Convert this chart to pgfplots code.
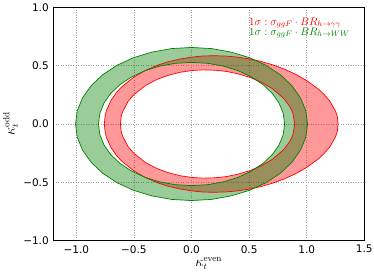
\documentclass[border=0pt]{standalone}
\usepackage[no-math]{fontspec}
\setmainfont{DejaVu Sans}
\usepackage{pgfplots}
\pgfplotsset{compat=1.18}
\definecolor{mplgreen}{rgb}{0,0.5,0}
\begin{document}
\fontsize{10}{12}\selectfont
\begin{tikzpicture}
\begin{axis}[
  scale only axis, width=311pt, height=233.4pt,
  xmin=-1.2, xmax=1.5, ymin=-1, ymax=1,
  xtick={-1,-0.5,0,0.5,1,1.5}, xticklabels={−1.0,−0.5,0.0,0.5,1.0,1.5},
  ytick={-1,-0.5,0,0.5,1}, yticklabels={−1.0,−0.5,0.0,0.5,1.0},
  grid=major, major grid style={gray!75, line width=0.5pt, dash pattern=on 1pt off 1.5pt},
  major tick length=0pt,
  axis line style={line width=0.8pt},
  tick label style={font=\fontsize{10.5}{12}\selectfont},
  xticklabel style={yshift=-1pt},
  yticklabel style={xshift=-1pt},
  xlabel={$\kappa_t^{\mathrm{even}}$}, ylabel={$\kappa_t^{\mathrm{odd}}$},
  label style={font=\fontsize{13.5}{15}\selectfont},
  xlabel style={at={(axis description cs:0.5,-0.098)}, anchor=center},
  ylabel style={at={(axis description cs:-0.137,0.5)}, anchor=center},
]
% red band fill
\addplot[draw=none, fill=red, fill opacity=0.4, even odd rule] coordinates {
(1.273,0) (1.265,0.067) (1.25,0.111) (1.2,0.197) (1.15,0.254) (1.1,0.300) (1.0,0.372) (0.9,0.428) (0.8,0.473) (0.7,0.508) (0.6,0.537) (0.5,0.558) (0.4,0.573) (0.3,0.582) (0.2,0.585) (0.1,0.583) (0,0.573) (-0.1,0.557) (-0.2,0.534) (-0.3,0.502) (-0.4,0.459) (-0.5,0.402) (-0.6,0.324) (-0.65,0.272) (-0.7,0.201) (-0.74,0.111) (-0.75,0.071) (-0.757,0)
(-0.75,-0.071) (-0.74,-0.111) (-0.7,-0.201) (-0.65,-0.272) (-0.6,-0.324) (-0.5,-0.402) (-0.4,-0.459) (-0.3,-0.502) (-0.2,-0.534) (-0.1,-0.557) (0,-0.573) (0.1,-0.583) (0.2,-0.585) (0.3,-0.582) (0.4,-0.573) (0.5,-0.558) (0.6,-0.537) (0.7,-0.508) (0.8,-0.473) (0.9,-0.428) (1.0,-0.372) (1.1,-0.300) (1.15,-0.254) (1.2,-0.197) (1.25,-0.111) (1.265,-0.067) (1.273,0)
(0.896,0) (0.88,0.092) (0.87,0.117) (0.85,0.154) (0.8,0.220) (0.7,0.304) (0.6,0.361) (0.5,0.402) (0.4,0.431) (0.3,0.451) (0.2,0.461) (0.1,0.464) (0,0.458) (-0.1,0.443) (-0.2,0.418) (-0.3,0.382) (-0.4,0.330) (-0.5,0.252) (-0.55,0.195) (-0.6,0.101) (-0.61,0.066) (-0.6175,0)
(-0.61,-0.066) (-0.6,-0.101) (-0.55,-0.195) (-0.5,-0.252) (-0.4,-0.330) (-0.3,-0.382) (-0.2,-0.418) (-0.1,-0.443) (0,-0.458) (0.1,-0.464) (0.2,-0.461) (0.3,-0.451) (0.4,-0.431) (0.5,-0.402) (0.6,-0.361) (0.7,-0.304) (0.8,-0.220) (0.85,-0.154) (0.87,-0.117) (0.88,-0.092) (0.896,0)
};
% green band fill
\addplot[draw=none, fill=mplgreen, fill opacity=0.4, even odd rule] coordinates {
(1.007,0) (0.992,0.114) (0.946,0.224) (0.872,0.328) (0.771,0.422) (0.647,0.503) (0.504,0.568) (0.344,0.616) (0.175,0.646) (0,0.656) (-0.175,0.646) (-0.344,0.616) (-0.504,0.568) (-0.647,0.503) (-0.771,0.422) (-0.872,0.328) (-0.946,0.224) (-0.992,0.114) (-1.007,0) (-0.992,-0.114) (-0.946,-0.224) (-0.872,-0.328) (-0.771,-0.422) (-0.647,-0.503) (-0.504,-0.568) (-0.344,-0.616) (-0.175,-0.646) (0,-0.656) (0.175,-0.646) (0.344,-0.616) (0.504,-0.568) (0.647,-0.503) (0.771,-0.422) (0.872,-0.328) (0.946,-0.224) (0.992,-0.114) (1.007,0)
(0.808,0) (0.796,0.092) (0.759,0.181) (0.700,0.264) (0.619,0.339) (0.519,0.404) (0.404,0.457) (0.276,0.496) (0.140,0.520) (0,0.528) (-0.140,0.520) (-0.276,0.496) (-0.404,0.457) (-0.519,0.404) (-0.619,0.339) (-0.700,0.264) (-0.759,0.181) (-0.796,0.092) (-0.808,0) (-0.796,-0.092) (-0.759,-0.181) (-0.700,-0.264) (-0.619,-0.339) (-0.519,-0.404) (-0.404,-0.457) (-0.276,-0.496) (-0.140,-0.520) (0,-0.528) (0.140,-0.520) (0.276,-0.496) (0.404,-0.457) (0.519,-0.404) (0.619,-0.339) (0.700,-0.264) (0.759,-0.181) (0.796,-0.092) (0.808,0)
};
% red outlines
\addplot[red, line width=0.7pt, line join=round] coordinates {
(1.273,0) (1.265,0.067) (1.25,0.111) (1.2,0.197) (1.15,0.254) (1.1,0.300) (1.0,0.372) (0.9,0.428) (0.8,0.473) (0.7,0.508) (0.6,0.537) (0.5,0.558) (0.4,0.573) (0.3,0.582) (0.2,0.585) (0.1,0.583) (0,0.573) (-0.1,0.557) (-0.2,0.534) (-0.3,0.502) (-0.4,0.459) (-0.5,0.402) (-0.6,0.324) (-0.65,0.272) (-0.7,0.201) (-0.74,0.111) (-0.75,0.071) (-0.757,0)
(-0.75,-0.071) (-0.74,-0.111) (-0.7,-0.201) (-0.65,-0.272) (-0.6,-0.324) (-0.5,-0.402) (-0.4,-0.459) (-0.3,-0.502) (-0.2,-0.534) (-0.1,-0.557) (0,-0.573) (0.1,-0.583) (0.2,-0.585) (0.3,-0.582) (0.4,-0.573) (0.5,-0.558) (0.6,-0.537) (0.7,-0.508) (0.8,-0.473) (0.9,-0.428) (1.0,-0.372) (1.1,-0.300) (1.15,-0.254) (1.2,-0.197) (1.25,-0.111) (1.265,-0.067) (1.273,0)
};
\addplot[red, line width=0.7pt, line join=round] coordinates {
(0.896,0) (0.88,0.092) (0.87,0.117) (0.85,0.154) (0.8,0.220) (0.7,0.304) (0.6,0.361) (0.5,0.402) (0.4,0.431) (0.3,0.451) (0.2,0.461) (0.1,0.464) (0,0.458) (-0.1,0.443) (-0.2,0.418) (-0.3,0.382) (-0.4,0.330) (-0.5,0.252) (-0.55,0.195) (-0.6,0.101) (-0.61,0.066) (-0.6175,0)
(-0.61,-0.066) (-0.6,-0.101) (-0.55,-0.195) (-0.5,-0.252) (-0.4,-0.330) (-0.3,-0.382) (-0.2,-0.418) (-0.1,-0.443) (0,-0.458) (0.1,-0.464) (0.2,-0.461) (0.3,-0.451) (0.4,-0.431) (0.5,-0.402) (0.6,-0.361) (0.7,-0.304) (0.8,-0.220) (0.85,-0.154) (0.87,-0.117) (0.88,-0.092) (0.896,0)
};
% green outlines
\addplot[mplgreen, line width=0.7pt, line join=round] coordinates {
(1.007,0) (0.992,0.114) (0.946,0.224) (0.872,0.328) (0.771,0.422) (0.647,0.503) (0.504,0.568) (0.344,0.616) (0.175,0.646) (0,0.656) (-0.175,0.646) (-0.344,0.616) (-0.504,0.568) (-0.647,0.503) (-0.771,0.422) (-0.872,0.328) (-0.946,0.224) (-0.992,0.114) (-1.007,0) (-0.992,-0.114) (-0.946,-0.224) (-0.872,-0.328) (-0.771,-0.422) (-0.647,-0.503) (-0.504,-0.568) (-0.344,-0.616) (-0.175,-0.646) (0,-0.656) (0.175,-0.646) (0.344,-0.616) (0.504,-0.568) (0.647,-0.503) (0.771,-0.422) (0.872,-0.328) (0.946,-0.224) (0.992,-0.114) (1.007,0)
};
\addplot[mplgreen, line width=0.7pt, line join=round] coordinates {
(0.808,0) (0.796,0.092) (0.759,0.181) (0.700,0.264) (0.619,0.339) (0.519,0.404) (0.404,0.457) (0.276,0.496) (0.140,0.520) (0,0.528) (-0.140,0.520) (-0.276,0.496) (-0.404,0.457) (-0.519,0.404) (-0.619,0.339) (-0.700,0.264) (-0.759,0.181) (-0.796,0.092) (-0.808,0) (-0.796,-0.092) (-0.759,-0.181) (-0.700,-0.264) (-0.619,-0.339) (-0.519,-0.404) (-0.404,-0.457) (-0.276,-0.496) (-0.140,-0.520) (0,-0.528) (0.140,-0.520) (0.276,-0.496) (0.404,-0.457) (0.519,-0.404) (0.619,-0.339) (0.700,-0.264) (0.759,-0.181) (0.796,-0.092) (0.808,0)
};
\node[anchor=west, text=red, font=\fontsize{11}{13}\selectfont, inner sep=0pt] at (rel axis cs:0.629,0.933) {$1\sigma:\sigma_{ggF}\cdot BR_{h\to\gamma\gamma}$};
\node[anchor=west, text=mplgreen, font=\fontsize{11}{13}\selectfont, inner sep=0pt] at (rel axis cs:0.629,0.89) {$1\sigma:\sigma_{ggF}\cdot BR_{h\to WW}$};
\end{axis}
\pgfresetboundingbox
\path[use as bounding box] ([xshift=-53.3pt,yshift=-34.3pt]current axis.south west) rectangle ([xshift=9.7pt,yshift=7.3pt]current axis.north east);
\end{tikzpicture}
\end{document}
